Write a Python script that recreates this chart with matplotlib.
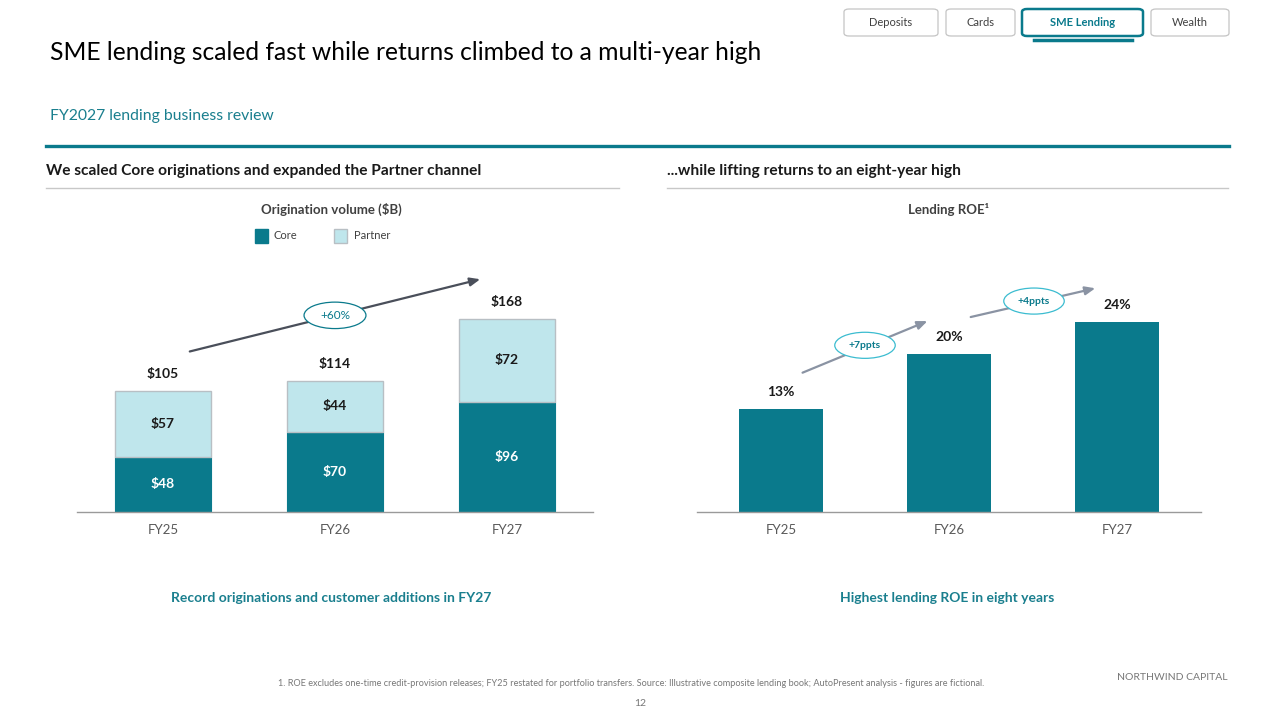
import matplotlib
matplotlib.use("Agg")
import matplotlib.pyplot as plt
from matplotlib.patches import Ellipse, FancyBboxPatch, Rectangle
import numpy as np

plt.rcParams['font.family'] = ['Lato', 'DejaVu Sans']

# data
years = ["FY25", "FY26", "FY27"]
core = [48, 70, 96]
partner = [57, 44, 72]
roe = [13, 20, 24]
growth_label = "+60%"
roe_steps = ["+7ppts", "+4ppts"]
tabs = ["Deposits", "Cards", "SME Lending", "Wealth"]
active_tab = "SME Lending"

TEAL = "#0a7a8c"
LIGHT = "#bfe6ec"
DARK = "#1a1a1a"
GREY = "#595959"

W, H = 1280, 720
fig = plt.figure(figsize=(12.8, 7.2), dpi=100)


def px_axes(x0, y_top, x1, y_bot):
    # axes placed by pixel box (top-left origin)
    return fig.add_axes([x0 / W, 1 - y_bot / H, (x1 - x0) / W, (y_bot - y_top) / H])


def ftext(x, y, s, **kw):
    fig.text(x / W, 1 - y / H, s, **kw)


def hline(x0, x1, y, color, lw):
    fig.add_artist(plt.Line2D([x0 / W, x1 / W], [1 - y / H, 1 - y / H],
                              color=color, lw=lw, transform=fig.transFigure))


# header
ftext(50, 52, "SME lending scaled fast while returns climbed to a multi-year high",
      fontsize=17.7, color="black", va="center", ha="left")
ftext(50, 116, "FY2027 lending business review", fontsize=11.3, color="#1a7f8e",
      va="center", ha="left")
hline(46, 1229, 145.5, TEAL, 2.4)

# tabs
tab_boxes = [(844, 938), (946, 1015), (1022, 1143), (1151, 1229)]
for name, (x0, x1) in zip(tabs, tab_boxes):
    active = name == active_tab
    box = FancyBboxPatch((x0 / W, 1 - 36 / H), (x1 - x0) / W, 27 / H,
                         boxstyle="round,pad=0,rounding_size=0.004",
                         transform=fig.transFigure,
                         facecolor="white",
                         edgecolor=TEAL if active else "#c4c4c4",
                         lw=1.8 if active else 0.9)
    fig.add_artist(box)
    ftext((x0 + x1) / 2, 22.5, name, fontsize=8, ha="center", va="center",
          color=TEAL if active else "#404040",
          fontweight="bold" if active else "normal")
    if active:
        hline(x0 + 12, x1 - 11, 39.5, TEAL, 2.5)

# section headers
ftext(46, 171, "We scaled Core originations and expanded the Partner channel",
      fontsize=11.2, fontweight="bold", color=DARK, va="center")
hline(46, 619, 187.5, "#c8c8c8", 1)
ftext(667, 171, "...while lifting returns to an eight-year high",
      fontsize=11.2, fontweight="bold", color=DARK, va="center")
hline(667, 1228, 187.5, "#c8c8c8", 1)

# chart titles
ftext(331, 209, "Origination volume ($B)", fontsize=9.5, fontweight="bold",
      color="#404040", ha="center", va="center")
ftext(948, 209, "Lending ROE\u00b9", fontsize=9.5, fontweight="bold",
      color="#404040", ha="center", va="center")

# legend
fig.add_artist(Rectangle((255 / W, 1 - 243 / H), 13 / W, 14 / H,
                         transform=fig.transFigure, facecolor=TEAL, edgecolor=TEAL))
ftext(274, 236, "Core", fontsize=8, color="#404040", va="center")
fig.add_artist(Rectangle((334 / W, 1 - 243 / H), 13 / W, 14 / H,
                         transform=fig.transFigure, facecolor=LIGHT, edgecolor="#b8bfc4"))
ftext(354, 236, "Partner", fontsize=8, color="#404040", va="center")

x = np.arange(len(years))

# left chart: stacked bars
ax1 = px_axes(77, 250, 593, 512)
ax1.bar(x, core, width=0.56, color=TEAL, edgecolor=TEAL, lw=0.8)
ax1.bar(x, partner, bottom=core, width=0.56, color=LIGHT, edgecolor="#b8bfc4", lw=1)
ax1.set_xlim(-0.5, 2.5)
ax1.set_ylim(0, 262 / 1.15)
totals = [c + p for c, p in zip(core, partner)]
for i in range(len(years)):
    ax1.text(x[i], core[i] / 2, f"${core[i]}", ha="center", va="center",
             color="white", fontsize=10, fontweight="bold")
    ax1.text(x[i], core[i] + partner[i] / 2, f"${partner[i]}", ha="center",
             va="center", color=DARK, fontsize=10, fontweight="bold")
    ax1.text(x[i], totals[i] + 15, f"${totals[i]}", ha="center", va="center",
             color=DARK, fontsize=10, fontweight="bold")
ax1.annotate("", xy=(1.86, 203), xytext=(0.14, 139),
             arrowprops=dict(arrowstyle="-|>,head_length=0.6,head_width=0.25",
                             color="#4a4f5a", lw=1.6))
ax1.add_patch(Ellipse((1.0, 171), 0.36, 23, facecolor="white", edgecolor=TEAL,
                      lw=0.9, zorder=5))
ax1.text(1.0, 171, growth_label, ha="center", va="center", color=TEAL,
         fontsize=8.5, zorder=6)

# right chart: ROE bars
ax2 = px_axes(697, 250, 1201, 512)
ax2.bar(x, roe, width=0.5, color=TEAL)
ax2.set_xlim(-0.5, 2.5)
ax2.set_ylim(0, 262 / 7.9)
for i in range(len(years)):
    ax2.text(x[i], roe[i] + 2.2, f"{roe[i]}%", ha="center", va="center",
             color=DARK, fontsize=10, fontweight="bold")
arrow_kw = dict(arrowstyle="-|>,head_length=0.6,head_width=0.25",
                color="#8a93a3", lw=1.6)
ax2.annotate("", xy=(0.887, 24.3), xytext=(0.113, 17.5), arrowprops=arrow_kw)
ax2.annotate("", xy=(1.887, 28.4), xytext=(1.113, 24.6), arrowprops=arrow_kw)
for (cx, cy), lab in zip([(0.5, 21.1), (1.506, 26.7)], roe_steps):
    ax2.add_patch(Ellipse((cx, cy), 0.36, 3.3, facecolor="white",
                          edgecolor="#3bbcd0", lw=0.9, zorder=5))
    ax2.text(cx, cy, lab, ha="center", va="center", color=TEAL, fontsize=7.5,
             fontweight="bold", zorder=6)

for ax in (ax1, ax2):
    ax.set_xticks(x)
    ax.set_xticklabels(years, fontsize=9.5, color=GREY)
    ax.tick_params(axis="x", length=0, pad=9)
    ax.set_yticks([])
    for s in ("top", "right", "left"):
        ax.spines[s].set_visible(False)
    ax.spines["bottom"].set_color("#9a9a9a")
    ax.spines["bottom"].set_linewidth(1)
    ax.patch.set_alpha(0)

# takeaways
ftext(331, 598, "Record originations and customer additions in FY27", fontsize=10,
      fontweight="bold", color="#1a7f8e", ha="center", va="center")
ftext(947, 598, "Highest lending ROE in eight years", fontsize=10,
      fontweight="bold", color="#1a7f8e", ha="center", va="center")

# footer
ftext(631, 683, "1. ROE excludes one-time credit-provision releases; FY25 restated for "
      "portfolio transfers. Source: Illustrative composite lending book; AutoPresent "
      "analysis - figures are fictional.", fontsize=6.6, color="#777777",
      ha="center", va="center")
ftext(1228, 678, "NORTHWIND CAPITAL", fontsize=7.5, color="#777777", ha="right",
      va="center")
ftext(640, 704, "12", fontsize=7.5, color="#777777", ha="center", va="center")

fig.savefig("out.png", dpi=100, facecolor="white")
